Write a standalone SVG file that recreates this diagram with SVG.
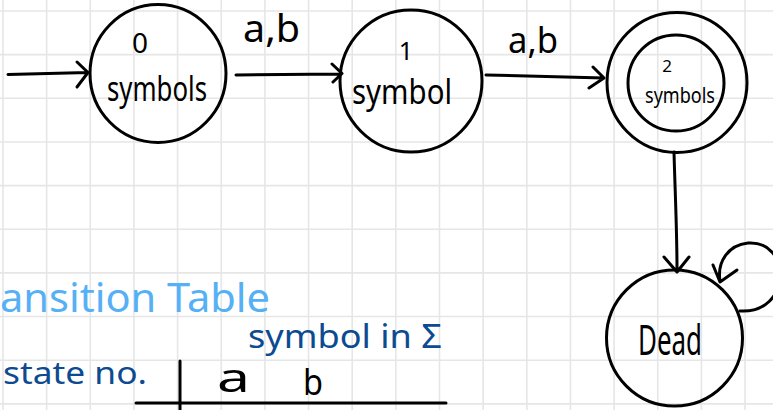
<svg xmlns="http://www.w3.org/2000/svg" width="773" height="410" viewBox="0 0 773 410">
<defs>
<style>
.grid{stroke:#e6e6e6;stroke-width:1.6;fill:none}
.node{fill:none;stroke:#000;stroke-width:3}
.edge{fill:none;stroke:#000;stroke-width:3;stroke-linecap:round;stroke-linejoin:round}
.hw{font-family:"Noto Sans","DejaVu Sans",sans-serif;fill:#000}
.lb{fill:#56b0f5}
.db{fill:#0c4a91}
</style>
</defs>
<rect width="773" height="410" fill="#fff"/>
<path class="grid" d="M3 0V410M46.65 0V410M90.3 0V410M133.95 0V410M177.6 0V410M221.25 0V410M264.9 0V410M308.55 0V410M352.2 0V410M395.85 0V410M439.5 0V410M483.15 0V410M526.8 0V410M570.45 0V410M614.1 0V410M657.75 0V410M701.4 0V410M745.05 0V410M0 11H773M0 54.65H773M0 98.3H773M0 141.95H773M0 185.6H773M0 229.25H773M0 272.9H773M0 316.55H773M0 360.2H773M0 403.85H773"/>
<g id="state0">
<ellipse class="node" cx="158" cy="73.5" rx="68" ry="69"/>
<text class="hw" x="140" y="53" font-size="28" text-anchor="middle">0</text>
<text class="hw" x="107" y="101" font-size="34" textLength="100" lengthAdjust="spacingAndGlyphs">symbols</text>
</g>
<g id="state1">
<circle class="node" cx="411" cy="81" r="71"/>
<text class="hw" x="406" y="60" font-size="25" text-anchor="middle">1</text>
<text class="hw" x="352" y="104" font-size="34" textLength="100" lengthAdjust="spacingAndGlyphs">symbol</text>
</g>
<g id="state2">
<circle class="node" cx="677" cy="82.5" r="70"/>
<circle class="node" cx="676" cy="83" r="48"/>
<text class="hw" x="667" y="72" font-size="17" text-anchor="middle">2</text>
<text class="hw" x="645" y="103" font-size="21" textLength="70" lengthAdjust="spacingAndGlyphs">symbols</text>
</g>
<g id="dead">
<circle class="node" cx="674.5" cy="338" r="68"/>
<text class="hw" x="638" y="355" font-size="42" textLength="64" lengthAdjust="spacingAndGlyphs">Dead</text>
</g>
<g id="connectors">
<path class="edge" d="M8 74.5L88 72.5M77 62L88 72.5L77 87"/>
<path class="edge" d="M236 75L340 74M332 64L342 73.5L333 82"/>
<path class="edge" d="M486 75L604 78M593 67L604 78L589 88"/>
<path class="edge" d="M674 152C675 190 677 230 677 270M664 257L677 272L689 257"/>
<path class="edge" d="M740 311C792 314 792 240 748 243C728 245 717 262 720 281M713 265L720 282L737 270"/>
</g>
<g id="labels">
<text class="hw" x="243" y="42" font-size="38" textLength="57" lengthAdjust="spacingAndGlyphs">a,b</text>
<text class="hw" x="508" y="53" font-size="36" textLength="50" lengthAdjust="spacingAndGlyphs">a,b</text>
</g>
<g id="table">
<text class="hw lb" x="0" y="312" font-size="40" textLength="270" lengthAdjust="spacingAndGlyphs">ansition Table</text>
<text class="hw db" x="248" y="348" font-size="32" textLength="194" lengthAdjust="spacingAndGlyphs">symbol in Σ</text>
<text class="hw db" x="3" y="384" font-size="30" textLength="144" lengthAdjust="spacingAndGlyphs">state no.</text>
<text class="hw" x="217" y="392" font-size="40" textLength="33" lengthAdjust="spacingAndGlyphs">a</text>
<text class="hw" x="303" y="395" font-size="36" textLength="20" lengthAdjust="spacingAndGlyphs">b</text>
<path class="edge" d="M180 361V410M136 403H446"/>
</g>
</svg>
